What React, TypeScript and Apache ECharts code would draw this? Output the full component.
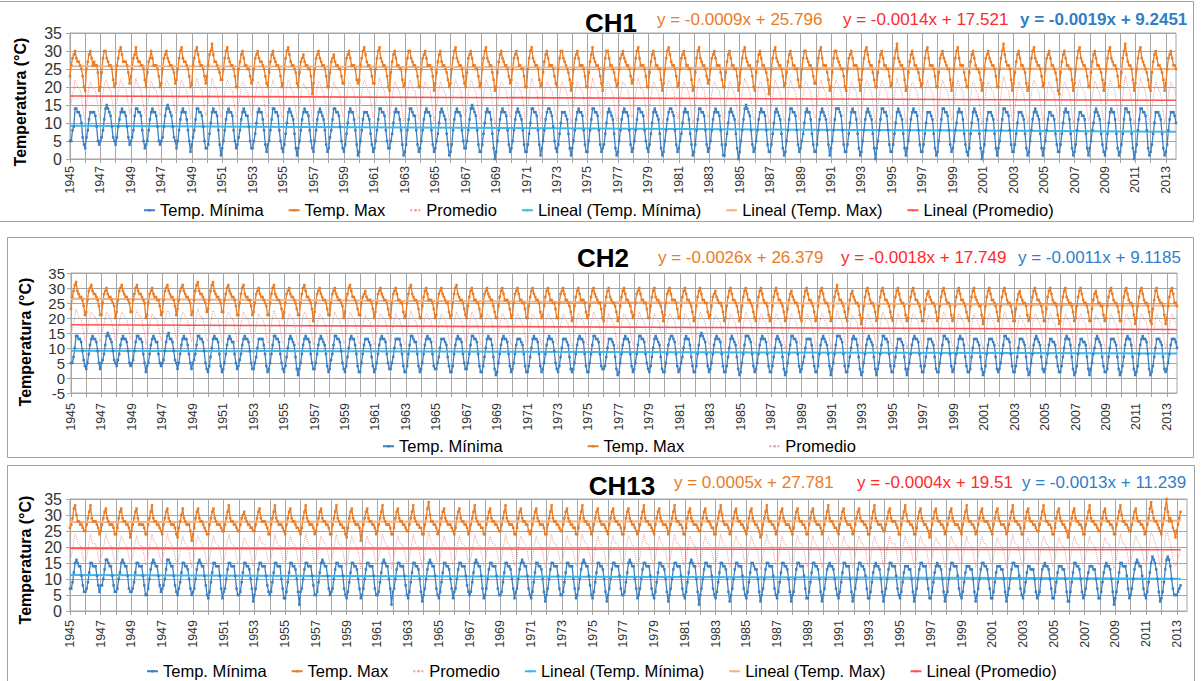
import React, { useEffect, useRef } from "react";
import * as echarts from "echarts";

const FONT = "'Liberation Sans', Arial, sans-serif";

// Year label of each 12-month block of the category axis (as printed on the original axis)
const YEAR_BLOCKS = [
  1945, 1946, 1947, 1948, 1949, 1950,
  1947, 1948, 1949, 1950, 1951, 1952, 1953, 1954, 1955, 1956, 1957, 1958, 1959, 1960,
  1961, 1962, 1963, 1964, 1965, 1966, 1967, 1968, 1969, 1970, 1971, 1972, 1973, 1974,
  1975, 1976, 1977, 1978, 1979, 1980, 1981, 1982, 1983, 1984, 1985, 1986, 1987, 1988,
  1989, 1990, 1991, 1992, 1993, 1994, 1995, 1996, 1997, 1998, 1999, 2000, 2001, 2002,
  2003, 2004, 2005, 2006, 2007, 2008, 2009, 2010, 2011, 2012, 2013,
];
const MONTHS = ["Ene", "Feb", "Mar", "Abr", "May", "Jun", "Jul", "Ago", "Sep", "Oct", "Nov", "Dic"];
const LAST_BLOCK_MONTHS = 9;

// ---------- CH1 ----------
const CH1_TMIN = [
  "5 5 8 9 14 14 13 13 12 10 6 4", "3 6 8 11 13 13 13 13 12 9 5 4", "5 6 8 11 14 15 14 13 12 9 6 5",
  "4 6 9 11 13 14 13 13 12 9 6 4", "5 6 8 12 14 14 13 13 12 8 5 3", "4 5 8 11 13 14 13 13 12 9 5 4",
  "5 6 9 12 14 15 14 13 12 9 6 5", "3 5 8 11 13 14 13 13 11 8 5 2", "4 6 8 11 14 14 13 13 12 9 5 3",
  "3 4 7 10 13 14 13 13 12 8 4 1", "3 5 8 11 13 14 13 13 12 8 5 3", "4 6 8 11 13 14 13 12 12 9 5 3",
  "3 5 7 10 13 14 13 13 11 8 4 2", "4 5 8 11 14 14 13 13 12 8 5 3", "2 4 7 10 13 14 13 12 11 7 3 1",
  "3 5 8 11 13 14 13 13 12 8 5 3", "2 5 8 11 13 14 13 12 11 8 4 2", "3 6 8 11 14 14 13 13 12 9 5 3",
  "2 4 7 10 13 14 13 13 11 8 4 1", "2 5 8 11 13 13 13 12 11 7 4 2", "3 5 8 11 14 14 13 13 12 8 5 3",
  "3 5 7 10 13 14 13 13 11 8 4 1", "2 4 8 11 14 14 13 12 12 8 4 2", "3 5 8 11 13 14 13 13 12 8 4 2",
  "3 5 7 10 13 14 13 12 11 7 4 1", "2 4 8 11 13 14 13 13 12 8 5 3", "3 5 8 11 14 15 14 13 12 8 4 2",
  "2 4 7 10 13 14 13 13 11 7 3 0", "2 5 8 11 13 14 13 13 12 8 4 2", "3 5 8 11 13 14 13 12 11 8 4 2",
  "2 4 7 10 14 14 13 13 12 8 4 1", "3 5 8 11 13 14 14 13 12 9 5 3", "2 4 7 10 13 13 13 12 11 7 3 1",
  "3 5 8 11 13 14 13 13 12 8 4 2", "2 5 8 11 14 14 13 13 12 8 4 2", "3 4 7 10 13 14 13 12 11 7 3 1",
  "2 5 8 11 13 14 13 13 12 8 4 2", "3 5 8 11 14 14 13 13 12 8 5 3", "2 4 7 10 13 14 13 12 11 7 3 1",
  "2 5 8 11 13 14 14 13 12 8 4 2", "3 5 7 10 13 14 13 13 11 7 4 1", "2 4 8 11 14 14 13 13 12 8 4 2",
  "3 5 8 11 13 14 13 13 12 8 4 1", "1 4 7 10 13 14 13 12 11 7 3 0", "2 5 8 11 14 15 14 13 12 8 4 2",
  "3 5 8 11 13 14 13 13 12 8 4 2", "2 4 7 10 13 14 13 12 11 7 3 1", "2 5 8 11 14 14 13 13 12 8 4 2",
  "3 5 7 10 13 14 13 13 11 7 4 2", "2 4 8 11 13 14 13 12 11 8 4 1", "3 5 8 11 14 14 14 13 12 8 4 2",
  "2 4 7 10 13 14 13 13 11 7 3 1", "2 5 8 11 13 14 13 12 11 7 3 0", "3 5 8 11 14 14 13 13 12 8 4 2",
  "2 4 7 10 13 14 13 12 11 7 3 1", "3 5 8 11 13 14 13 13 12 8 4 2", "2 4 7 10 13 13 13 12 11 7 3 1",
  "2 5 8 11 14 14 13 13 12 8 4 2", "3 5 8 10 13 14 13 13 11 7 4 2", "1 3 7 10 13 14 13 12 11 7 3 0",
  "2 4 8 11 13 13 13 12 11 7 3 1", "3 5 8 11 14 14 13 13 12 8 4 2", "2 4 7 10 13 13 13 12 11 7 3 1",
  "2 5 8 11 13 14 13 12 11 7 3 1", "3 5 8 11 13 13 12 12 11 7 4 2", "2 4 7 10 13 14 13 13 11 7 3 1",
  "2 4 8 11 13 13 12 12 11 7 3 1", "3 5 8 10 13 14 13 12 11 7 4 2", "1 3 7 10 13 14 13 13 11 7 3 1",
  "2 4 7 11 14 14 13 13 11 7 3 0", "2 4 8 11 14 14 13 13 12 8 3 1", "2 4 7 10 13 13 13 12 11 7 3 1",
  "2 4 8 11 13 13 13 12 10",
];
const CH1_TMAX = [
  "23 26 28 29 30 28 27 27 26 25 23 20", "19 25 27 29 30 28 26 27 26 26 24 19", "20 24 28 30 30 28 27 26 26 25 22 20",
  "21 26 28 30 31 29 27 27 27 26 24 21", "23 25 28 29 31 28 27 27 26 26 25 22", "20 24 27 28 30 28 26 26 26 25 23 20",
  "21 25 28 29 30 28 27 26 26 25 24 21", "22 25 28 30 31 28 27 27 26 25 23 20", "21 26 28 30 31 29 27 26 26 25 23 21",
  "23 26 29 30 32 29 27 27 26 25 24 22", "22 25 28 30 31 28 27 26 26 25 23 20", "20 25 27 29 30 28 26 26 25 25 23 21",
  "22 25 28 29 30 28 27 27 26 25 23 21", "20 24 27 29 30 28 27 26 26 25 23 20", "21 25 28 30 31 29 27 26 26 25 24 21",
  "20 24 27 28 29 27 26 26 25 25 23 18", "21 25 28 29 30 28 27 26 26 25 23 20", "20 24 27 28 29 27 26 26 25 25 23 21",
  "21 25 28 29 30 28 26 26 26 25 22 21", "22 26 28 30 31 29 27 26 26 25 23 21", "21 25 28 30 31 28 27 26 26 25 23 20",
  "19 24 27 29 30 28 26 26 25 25 22 20", "21 25 28 30 30 28 27 26 26 25 23 20", "20 25 28 29 30 28 26 26 26 25 23 19",
  "21 24 27 29 30 27 26 26 25 24 22 20", "21 25 28 30 31 28 27 26 26 25 23 21", "20 24 28 29 30 28 26 26 25 25 23 20",
  "21 25 28 30 31 28 27 26 26 24 22 19", "20 24 27 29 30 28 27 26 26 25 23 21", "22 25 28 29 30 28 26 26 25 25 23 20",
  "20 25 28 30 31 28 27 26 26 25 22 20", "21 24 27 29 30 28 26 26 26 25 23 21", "20 25 28 30 30 28 27 26 25 24 22 19",
  "21 25 28 29 30 28 26 26 26 25 23 20", "20 24 27 29 31 28 27 26 26 25 23 21", "19 25 28 30 30 28 26 26 25 24 22 20",
  "21 25 28 29 30 28 27 26 26 25 23 21", "22 25 28 30 31 28 26 26 26 25 23 20", "20 24 27 29 30 28 26 26 25 25 22 19",
  "21 25 28 30 31 29 27 26 26 25 23 20", "21 25 28 29 30 28 26 26 25 25 22 19", "20 24 28 30 31 28 27 26 26 25 23 21",
  "22 25 28 29 30 28 26 26 26 24 22 20", "20 24 27 29 30 28 26 26 25 25 23 19", "21 25 28 30 31 28 27 26 26 25 23 20",
  "19 24 27 29 30 28 26 26 25 24 22 18", "20 25 28 30 31 28 27 26 26 25 23 20", "21 24 27 29 30 28 26 26 25 25 22 20",
  "20 25 28 30 30 28 27 26 26 25 23 21", "21 25 28 30 31 28 26 26 26 24 22 19", "20 24 28 30 30 28 27 26 25 25 23 20",
  "19 25 28 29 30 28 26 26 26 25 22 19", "22 25 28 30 31 29 27 26 26 24 22 20", "20 24 27 29 30 28 26 26 25 25 23 20",
  "21 25 28 30 32 28 27 26 26 25 22 19", "20 24 27 29 30 28 26 26 25 24 22 20", "21 25 28 30 31 28 26 26 26 25 23 20",
  "20 24 28 29 30 28 27 26 25 25 22 19", "21 25 28 30 31 28 26 26 26 24 22 20", "20 24 27 29 30 28 26 25 25 24 22 19",
  "21 25 28 29 30 28 27 26 26 25 23 20", "20 25 28 30 32 29 27 26 26 25 22 19", "21 24 27 29 30 28 26 26 25 24 21 19",
  "20 25 28 30 31 28 27 26 26 25 23 20", "21 25 28 29 30 28 26 26 25 24 22 19", "18 24 27 29 30 28 26 26 25 25 22 19",
  "21 25 28 30 31 28 27 26 26 25 23 20", "20 24 27 29 30 28 26 26 25 24 22 19", "21 25 28 30 31 28 27 26 26 25 23 20",
  "20 24 28 30 32 29 27 26 26 25 22 19", "21 25 28 30 31 28 27 26 25 24 22 20", "19 24 27 29 30 28 26 26 25 24 22 19",
  "21 25 28 29 30 28 26 26 25",
];

// ---------- CH2 ----------
const CH2_TMIN = [
  "5 5 7 10 14 14 13 13 12 9 6 4", "3 5 8 11 13 14 13 13 12 9 5 3", "5 6 8 11 14 15 14 13 12 9 6 5",
  "4 6 8 11 13 14 13 13 12 9 5 4", "5 6 9 12 14 14 13 13 12 8 5 2", "4 5 8 11 13 14 13 12 12 8 5 4",
  "5 6 9 12 14 15 13 13 12 9 6 5", "3 5 8 11 13 14 13 13 11 8 5 3", "5 6 8 11 14 14 13 13 12 9 5 3",
  "2 4 7 10 13 14 13 13 12 8 4 2", "3 5 8 11 13 14 13 12 12 8 5 3", "4 6 8 11 13 14 13 13 12 9 5 3",
  "3 5 7 10 13 13 13 13 11 8 4 2", "3 5 8 11 14 14 13 13 12 8 5 3", "2 4 7 10 13 14 13 12 11 7 3 1",
  "3 5 8 11 13 14 13 13 12 8 5 3", "3 5 8 11 13 14 13 12 11 8 4 2", "3 6 8 11 14 14 13 13 12 9 5 3",
  "2 4 7 10 13 14 13 13 11 8 4 2", "2 5 8 11 13 13 13 12 11 7 4 2", "3 5 8 11 13 14 13 13 12 8 5 3",
  "3 5 7 10 13 13 13 13 11 8 4 2", "2 4 8 11 14 14 13 12 12 8 4 2", "3 5 8 11 13 14 13 13 12 8 4 3",
  "3 5 7 10 13 13 13 12 11 7 4 2", "2 4 8 11 13 14 13 13 12 8 5 3", "3 5 8 11 14 14 13 13 12 8 4 2",
  "2 4 7 10 13 14 13 13 11 7 3 1", "2 5 8 11 13 14 13 13 12 8 4 2", "3 5 8 11 13 13 13 12 11 8 4 2",
  "2 4 7 10 13 14 13 13 12 8 4 2", "3 5 8 11 13 14 13 13 12 9 5 3", "2 4 7 10 13 13 13 12 11 7 3 2",
  "3 5 8 11 13 14 13 13 12 8 4 2", "2 5 8 11 14 14 13 13 12 8 4 3", "3 4 7 10 13 13 13 12 11 7 3 1",
  "2 5 8 11 13 14 13 13 12 8 4 2", "3 5 8 11 14 14 13 13 12 8 5 3", "2 4 7 10 13 14 13 12 11 7 3 2",
  "2 5 8 11 13 14 14 13 12 8 4 2", "3 5 7 10 13 14 13 13 11 7 4 2", "2 4 8 11 14 15 14 13 12 8 4 2",
  "3 5 8 11 13 14 13 13 12 8 4 2", "2 4 7 10 13 14 13 12 11 7 3 1", "2 5 8 11 14 14 14 13 12 8 4 2",
  "3 5 8 11 13 14 13 13 12 8 4 2", "2 4 7 10 13 14 13 12 11 7 3 1", "2 5 8 11 14 14 13 13 12 8 4 2",
  "3 5 7 10 13 13 13 13 11 7 4 2", "2 4 8 11 13 14 13 12 11 8 4 1", "3 5 8 11 14 14 14 13 12 8 4 2",
  "2 4 7 10 13 14 13 13 11 7 3 1", "2 5 8 11 13 14 13 12 11 7 3 1", "3 5 8 11 14 14 13 13 12 8 4 2",
  "2 4 7 10 13 13 13 12 11 7 3 1", "3 5 8 11 13 14 13 13 12 8 4 2", "2 4 7 10 13 13 13 12 11 7 3 2",
  "2 5 8 11 14 14 13 13 12 8 4 2", "3 5 8 10 13 14 13 13 11 7 4 2", "2 3 7 10 13 13 13 12 11 7 3 1",
  "2 4 8 11 13 13 13 12 11 7 3 2", "3 5 8 11 14 14 13 13 12 8 4 2", "2 4 7 10 13 13 13 12 11 7 3 1",
  "2 5 8 11 13 14 13 12 11 7 3 2", "3 5 8 11 13 13 12 12 11 7 4 2", "2 4 7 10 13 14 13 13 11 7 3 1",
  "2 4 8 11 13 13 12 12 11 7 3 1", "3 5 8 10 13 14 13 12 11 7 4 2", "2 3 7 10 13 13 13 12 11 7 3 1",
  "2 4 7 11 13 14 13 13 11 7 3 1", "2 4 8 11 13 14 13 13 12 8 3 1", "2 4 7 10 13 13 13 12 11 7 3 2",
  "3 5 8 11 13 13 13 12 10",
];
const CH2_TMAX = [
  "23 27 29 31 32 29 28 27 27 26 24 21", "22 26 29 30 31 29 28 28 27 26 24 21", "21 25 28 29 30 28 27 27 26 25 24 20",
  "22 26 29 30 31 29 28 27 27 26 25 22", "22 26 28 30 31 29 28 28 27 26 25 20", "21 25 28 29 30 28 27 27 26 26 24 21",
  "22 26 29 30 31 29 28 27 27 26 24 21", "23 26 29 30 31 29 28 27 27 26 25 21", "22 26 29 31 32 29 28 28 27 26 25 22",
  "23 26 29 31 32 29 28 27 27 26 25 22", "22 26 28 30 31 29 28 27 27 26 24 21", "21 25 28 30 31 28 27 27 26 26 24 21",
  "22 25 28 29 30 28 27 27 26 25 24 21", "21 25 28 30 31 28 27 26 26 25 23 20", "22 25 28 29 30 28 27 27 26 25 23 21",
  "21 25 28 30 31 29 27 27 26 25 23 19", "22 25 28 29 30 28 27 26 26 25 23 21", "21 25 28 29 30 28 27 26 26 25 24 20",
  "22 26 28 30 31 29 27 27 26 25 23 21", "21 25 27 28 29 27 26 26 26 25 23 20", "22 25 28 29 30 28 27 26 26 25 23 21",
  "20 25 28 29 30 28 26 26 25 25 22 20", "21 25 28 30 31 28 27 26 26 25 23 20", "20 24 27 29 30 28 26 26 26 25 23 20",
  "21 25 28 29 30 28 27 26 25 25 22 20", "21 25 28 30 31 28 27 26 26 25 23 21", "20 24 27 29 30 28 26 26 25 25 23 20",
  "21 25 28 29 30 28 27 26 26 24 22 20", "20 24 27 29 30 28 26 26 26 25 23 20", "21 25 28 29 30 28 26 26 25 25 23 20",
  "20 24 27 29 30 28 27 26 26 25 22 20", "21 24 27 29 30 28 26 26 25 25 23 20", "20 25 28 29 30 28 26 26 25 24 22 19",
  "20 24 27 29 30 28 26 26 26 25 22 20", "21 24 27 29 30 28 27 26 25 25 23 20", "19 24 27 29 30 27 26 25 25 24 22 19",
  "20 24 27 29 30 28 26 26 25 24 22 20", "21 25 28 29 30 28 26 26 25 25 23 20", "20 24 27 29 30 27 26 26 25 24 22 19",
  "21 25 28 29 30 28 26 26 26 25 23 20", "20 24 27 29 30 28 26 26 25 24 22 19", "20 24 27 29 30 28 26 26 25 25 22 20",
  "21 24 27 28 29 27 26 25 25 24 22 19", "20 24 27 29 30 28 26 26 25 24 22 19", "20 24 27 29 30 28 26 26 25 24 22 20",
  "19 24 27 29 30 28 26 25 25 24 21 19", "20 24 27 29 30 28 26 26 25 24 22 19", "20 23 26 28 29 27 26 25 25 24 22 20",
  "19 24 27 29 30 28 26 26 25 24 22 19", "20 24 27 29 30 28 26 25 25 24 22 19", "20 24 27 29 31 28 26 26 25 24 22 20",
  "19 23 26 28 29 27 26 25 25 24 21 18", "20 24 27 29 30 28 26 25 25 24 22 19", "20 24 27 29 30 28 26 26 25 24 22 20",
  "19 24 27 29 30 28 26 25 25 24 21 19", "20 24 27 29 30 28 26 26 25 24 22 19", "19 23 26 28 29 27 26 25 25 24 22 19",
  "20 24 27 29 30 28 26 25 25 24 21 19", "20 24 27 29 30 28 26 26 25 24 22 20", "19 24 27 29 30 27 26 25 24 24 21 18",
  "20 24 27 29 30 28 26 26 25 24 22 19", "20 24 27 29 30 28 26 25 25 24 22 19", "19 23 26 28 29 27 26 25 25 24 21 19",
  "20 24 27 29 30 28 26 26 25 24 22 19", "19 23 27 29 30 28 26 25 25 24 21 18", "19 24 27 29 30 27 26 25 25 24 22 19",
  "20 24 27 29 30 28 26 25 25 24 22 19", "19 23 26 28 29 27 25 25 24 24 21 19", "20 24 27 29 30 28 26 25 25 24 22 19",
  "19 24 27 29 30 28 26 25 25 24 21 18", "20 24 27 29 30 28 26 25 25 24 22 19", "18 23 26 29 30 27 26 25 25 24 21 18",
  "20 24 27 29 30 28 25 25 24",
];

// ---------- CH13 ----------
const CH13_TMIN = [
  "7 7 9 12 15 16 15 14 14 11 8 6", "6 7 9 12 15 15 14 14 14 11 8 6", "8 8 10 13 16 16 15 14 14 11 8 6",
  "6 7 10 12 15 16 15 14 14 11 7 6", "6 7 9 12 15 15 14 14 14 11 8 5", "5 7 10 13 15 16 15 14 14 11 8 6",
  "7 8 10 13 16 16 15 14 14 11 8 6", "5 7 9 12 15 15 14 14 13 10 7 5", "6 7 10 13 15 16 15 14 14 11 8 5",
  "4 6 9 12 15 15 14 14 14 11 7 4", "6 7 10 13 15 15 14 14 14 11 7 5", "5 6 9 12 15 15 14 14 13 10 7 3",
  "5 7 10 13 15 15 14 14 14 11 8 6", "5 6 9 12 15 15 14 14 14 10 7 4", "4 6 9 12 15 15 14 14 13 10 6 2",
  "6 7 10 13 15 15 14 14 14 11 8 5", "5 6 9 12 15 16 15 14 14 11 7 5", "6 7 10 13 15 15 14 14 14 11 7 5",
  "4 6 9 12 15 15 14 14 13 10 7 4", "5 7 10 13 15 15 14 14 14 11 7 5", "5 6 9 12 15 16 15 14 14 10 7 2",
  "6 7 10 13 15 15 14 14 14 11 8 5", "4 6 9 12 15 15 14 14 13 10 6 3", "5 7 10 13 15 16 15 14 14 11 7 5",
  "4 6 9 12 15 15 14 14 13 10 7 4", "6 7 10 13 15 15 14 14 14 11 8 6", "5 6 9 12 15 16 15 14 14 11 7 4",
  "5 7 10 13 15 15 14 14 14 11 7 5", "5 6 9 12 15 15 14 14 13 10 7 4", "6 7 10 13 15 16 15 14 14 11 7 5",
  "4 6 9 12 15 15 14 14 13 10 6 3", "5 7 10 13 15 15 14 14 14 11 7 5", "5 6 9 12 15 15 14 14 14 10 7 4",
  "5 7 10 13 15 16 15 14 14 11 8 5", "4 6 9 12 15 15 14 14 13 10 6 3", "5 7 10 13 15 15 14 14 14 11 7 5",
  "5 6 9 12 15 16 15 14 14 10 7 4", "5 7 10 13 15 15 14 14 14 11 7 5", "4 6 9 12 15 15 14 14 13 10 6 3",
  "5 7 10 13 15 15 14 14 14 11 7 5", "4 6 9 12 15 16 15 14 14 10 6 2", "5 7 10 13 15 15 14 14 14 11 7 5",
  "4 6 9 12 15 15 14 14 13 10 6 3", "5 7 10 13 15 15 14 14 14 11 7 5", "4 6 9 12 15 15 14 13 13 10 6 3",
  "5 7 10 13 15 15 14 14 14 11 7 5", "4 6 9 12 15 15 14 14 13 10 6 3", "5 6 10 13 15 15 14 14 14 11 7 4",
  "4 6 9 12 15 15 14 14 13 10 6 3", "5 7 10 13 14 15 14 14 13 10 7 5", "4 6 9 12 15 15 14 14 14 10 6 3",
  "5 7 10 13 15 15 14 14 13 11 7 4", "4 6 9 12 14 15 14 14 13 10 6 3", "5 7 10 13 15 15 14 14 14 11 7 5",
  "4 6 9 12 14 14 14 13 13 10 6 3", "5 7 10 13 15 15 14 14 14 10 7 4", "4 6 9 12 14 15 14 14 13 10 6 3",
  "5 6 10 13 15 15 14 14 14 11 7 5", "4 6 9 12 14 14 14 13 13 10 6 3", "5 7 10 13 15 15 14 14 13 10 7 4",
  "4 6 9 12 14 14 14 13 13 10 6 3", "5 7 10 13 15 15 14 14 14 11 7 5", "4 6 9 12 14 14 13 13 13 10 6 4",
  "5 6 10 13 14 15 14 14 13 10 7 4", "4 6 9 12 14 14 14 13 13 10 6 3", "3 6 9 12 15 15 14 14 13 10 6 4",
  "5 7 10 12 14 14 14 13 13 10 7 4", "4 6 9 12 14 15 14 14 13 10 6 2", "4 6 9 12 15 15 14 14 14 11 7 4",
  "5 7 10 13 15 16 15 14 14 11 7 5", "4 6 9 12 15 17 16 15 13 10 6 3", "4 6 9 13 16 17 16 14 10 7 5 5",
  "5 6 7 8",
];
const CH13_TMAX = [
  "26 27 29 32 33 30 28 28 27 27 26 25", "25 27 29 31 33 29 28 28 28 27 26 24", "25 27 29 31 32 29 28 27 27 27 26 24",
  "24 26 29 31 32 29 28 28 27 27 26 23", "25 27 29 31 32 29 27 27 27 27 26 24", "24 27 29 31 33 29 28 28 27 27 26 25",
  "24 27 29 31 32 29 28 27 27 27 26 24", "23 26 28 30 32 29 28 27 27 27 25 22", "24 26 29 31 32 29 28 28 27 26 25 24",
  "24 27 29 31 32 29 28 27 27 27 26 25", "25 27 29 31 33 29 28 28 27 27 26 25", "25 27 29 30 31 29 28 27 27 26 26 25",
  "25 27 29 31 32 29 28 28 28 27 26 24", "24 27 29 31 33 29 28 27 27 27 26 25", "24 27 29 31 32 29 28 28 27 26 26 25",
  "24 26 29 31 33 29 28 27 27 27 26 24", "25 27 29 31 32 29 28 28 27 27 26 24", "24 27 29 31 33 29 28 27 27 26 26 24",
  "23 26 29 31 32 29 28 27 27 27 26 22", "25 27 29 31 32 29 28 28 27 27 26 24", "25 27 29 31 33 29 28 27 27 27 26 24",
  "24 26 29 31 32 29 28 28 27 27 26 25", "25 27 29 31 33 29 28 27 27 26 26 24", "24 27 29 32 34 30 28 28 27 27 26 24",
  "25 27 29 31 32 29 28 27 27 27 26 25", "24 26 29 31 32 29 28 28 27 27 26 24", "25 27 29 31 33 29 28 27 27 26 26 24",
  "24 27 29 31 32 29 28 28 27 27 26 25", "25 27 29 31 33 29 28 27 27 27 26 24", "24 26 29 31 32 29 28 28 27 27 25 24",
  "25 27 29 31 32 29 28 27 27 27 26 24", "24 27 29 31 33 29 28 28 27 27 26 25", "25 27 29 31 32 29 28 27 27 26 26 24",
  "24 26 29 31 33 29 28 28 27 27 26 24", "25 27 29 31 32 29 28 27 27 27 26 25", "24 27 29 31 32 29 28 28 27 27 26 24",
  "24 26 29 31 32 29 28 27 27 26 25 24", "25 27 29 31 33 29 28 28 27 27 26 25", "24 27 29 31 32 29 28 27 27 27 26 24",
  "25 27 29 31 33 29 28 28 27 27 26 24", "24 26 29 31 32 29 28 27 27 27 26 25", "25 27 29 31 32 29 28 28 27 26 26 24",
  "24 27 29 31 33 30 28 27 27 27 26 24", "25 27 29 31 32 29 28 28 27 27 26 25", "24 26 29 31 32 29 28 27 27 26 25 23",
  "24 27 29 31 33 29 28 28 27 27 26 24", "25 27 29 31 32 29 28 27 27 27 26 25", "24 26 29 31 32 29 28 28 27 27 26 24",
  "24 27 29 31 32 29 28 27 27 27 26 24", "25 27 29 31 33 29 28 28 27 26 26 25", "24 27 29 31 32 29 28 27 27 27 26 24",
  "25 27 29 31 32 29 28 28 27 27 26 24", "24 26 29 31 33 29 28 27 27 27 26 25", "25 27 29 31 32 29 28 28 28 27 26 24",
  "24 27 29 31 33 30 28 28 27 27 26 24", "24 26 29 31 32 29 28 27 27 26 25 23", "25 27 29 31 32 29 28 28 27 27 26 24",
  "25 27 29 31 32 29 28 27 27 27 26 25", "24 27 29 31 33 29 28 28 27 27 26 24", "25 27 29 31 32 29 28 28 28 27 26 25",
  "24 27 29 31 32 29 28 27 27 27 26 24", "25 27 29 31 33 29 28 28 27 27 26 24", "24 26 29 31 32 29 28 28 27 27 26 25",
  "25 27 29 31 33 30 28 28 27 27 26 24", "24 26 29 31 32 29 28 27 27 26 25 23", "25 27 29 31 32 29 28 28 27 27 26 24",
  "24 27 29 31 33 29 28 28 27 27 26 25", "25 27 29 31 32 29 28 28 27 27 26 24", "24 27 29 31 33 30 28 28 27 27 26 25",
  "25 27 29 31 32 29 28 28 27 27 26 24", "25 27 29 32 34 31 29 28 28 27 26 25", "24 27 29 32 35 31 28 29 28 26 25 23",
  "25 27 29 31",
];

// Linear trend lines as printed on the chart: [slope, intercept]
const CH1_TRENDS = { tmax: [-0.0009, 25.796], prom: [-0.0014, 17.521], tmin: [-0.0019, 9.2451] };
const CH2_TRENDS = { tmax: [-0.0026, 26.379], prom: [-0.0018, 17.749], tmin: [-0.0011, 9.1185] };
const CH13_TRENDS = { tmax: [0.0005, 27.781], prom: [-0.0004, 19.51], tmin: [-0.0013, 11.239] };

const CH1_EQ = ["y = -0.0009x + 25.796", "y = -0.0014x + 17.521", "y = -0.0019x + 9.2451"];
const CH2_EQ = ["y = -0.0026x + 26.379", "y = -0.0018x + 17.749", "y = -0.0011x + 9.1185"];
const CH13_EQ = ["y = 0.0005x + 27.781", "y = -0.0004x + 19.51", "y = -0.0013x + 11.239"];

const NAMES = [
  "Temp. Mínima", "Temp. Max", "Promedio",
  "Lineal (Temp. Mínima)", "Lineal (Temp. Max)", "Lineal (Promedio)",
];

const C_TMIN = "#3b80c4";
const C_TMAX = "#e97c26";
const C_PROM = "#ee9c9c";
const C_LTMIN = "#3ab7ef";
const C_LTMAX = "#f5b384";
const C_LPROM = "#ff5252";
const C_GRID = "#a6a6a6";

const LEGEND_FS = 16.5;

const parse = (rows: string[]) => rows.join(" ").trim().split(/\s+/).map(Number);

const CATS: string[] = YEAR_BLOCKS.flatMap((y, b) =>
  MONTHS.slice(0, b === YEAR_BLOCKS.length - 1 ? LAST_BLOCK_MONTHS : 12).map((m) => `${m} ${y} #${b}`)
);

const PANELS = [
  {
    title: "CH1", tmin: CH1_TMIN, tmax: CH1_TMAX, trends: CH1_TRENDS, eq: CH1_EQ, eqBold: [false, false, true],
    ymin: 0, grid: { left: 70, top: 33, width: 1106, height: 126 },
    border: { x: -1.5, y: 1.5, w: 1195, h: 220 },
    titlePos: [611, 23], eqY: 19, eqX: [657, 843, 1020], yName: [20, 102],
    xMargin: 7, yMargin: 8, yFs: 16,
    legend: { left: 143, center: 210, gap: 24, items: NAMES },
  },
  {
    title: "CH2", tmin: CH2_TMIN, tmax: CH2_TMAX, trends: CH2_TRENDS, eq: CH2_EQ, eqBold: [false, false, false],
    ymin: -5, grid: { left: 71, top: 273, width: 1106, height: 120 },
    border: { x: 7.5, y: 237.5, w: 1186, h: 220 },
    titlePos: [603, 258], eqY: 257, eqX: [658, 841, 1018], yName: [25, 342],
    xMargin: 10, yMargin: 6, yFs: 15,
    legend: { left: 382, center: 446, gap: 84, items: NAMES.slice(0, 3) },
  },
  {
    title: "CH13", tmin: CH13_TMIN, tmax: CH13_TMAX, trends: CH13_TRENDS, eq: CH13_EQ, eqBold: [false, false, false],
    ymin: 0, grid: { left: 70, top: 499, width: 1117, height: 112 },
    border: { x: 7.5, y: 465.5, w: 1187, h: 240 },
    titlePos: [622, 486], eqY: 482, eqX: [674, 857, 1022], yName: [25, 560],
    xMargin: 9, yMargin: 8, yFs: 16,
    legend: { left: 146, center: 671, gap: 24, items: NAMES },
  },
];

function buildOption() {
  const grids: any[] = [];
  const xAxes: any[] = [];
  const yAxes: any[] = [];
  const series: any[] = [];
  const legends: any[] = [];
  const graphics: any[] = [];

  PANELS.forEach((p, k) => {
    const tmin = parse(p.tmin);
    const tmax = parse(p.tmax);
    const prom = tmin.map((v, i) => (v + tmax[i]) / 2);
    const n = tmin.length;
    const trend = (t: number[]) => [
      [0, t[0] * 1 + t[1]],
      [n - 1, t[0] * n + t[1]],
    ];

    grids.push({
      ...p.grid,
      show: true,
      borderColor: C_GRID,
      borderWidth: 1,
      backgroundColor: "transparent",
    });
    xAxes.push({
      type: "category",
      gridIndex: k,
      data: CATS,
      boundaryGap: false,
      axisLine: { show: true, onZero: false, lineStyle: { color: C_GRID } },
      axisTick: { show: true, interval: 11, length: 4, lineStyle: { color: C_GRID } },
      axisLabel: {
        interval: 23,
        rotate: 90,
        fontSize: 12.5,
        color: "#333",
        fontFamily: FONT,
        margin: p.xMargin,
        hideOverlap: false,
        formatter: (v: string) => v.split(" ")[1],
      },
      splitLine: { show: true, interval: 11, lineStyle: { color: C_GRID, width: 1 } },
    });
    yAxes.push({
      type: "value",
      gridIndex: k,
      min: p.ymin,
      max: 35,
      interval: 5,
      axisLine: { show: true, lineStyle: { color: C_GRID } },
      axisTick: { show: true, length: 4, lineStyle: { color: C_GRID } },
      axisLabel: {
        fontSize: p.yFs, color: "#333", fontFamily: FONT, margin: p.yMargin,
        showMinLabel: true, showMaxLabel: true, hideOverlap: false,
      },
      splitLine: { show: true, lineStyle: { color: C_GRID, width: 1 } },
    });

    const base = { xAxisIndex: k, yAxisIndex: k, type: "line", silent: true, animation: false };
    series.push(
      {
        ...base, name: NAMES[0], data: tmin, color: C_TMIN,
        symbol: "rect", symbolSize: 2.5, showAllSymbol: true,
        lineStyle: { width: 1.3, color: C_TMIN }, itemStyle: { color: C_TMIN },
      },
      {
        ...base, name: NAMES[1], data: tmax, color: C_TMAX,
        symbol: "rect", symbolSize: 2.5, showAllSymbol: true,
        lineStyle: { width: 1.3, color: C_TMAX }, itemStyle: { color: C_TMAX },
      },
      {
        ...base, name: NAMES[2], data: prom, color: C_PROM, symbol: "none",
        lineStyle: { width: 1, type: "dotted", color: C_PROM },
      },
      {
        ...base, name: NAMES[3], data: trend(p.trends.tmin), color: C_LTMIN, symbol: "none",
        lineStyle: { width: 2, color: C_LTMIN },
      },
      {
        ...base, name: NAMES[4], data: trend(p.trends.tmax), color: C_LTMAX, symbol: "none",
        lineStyle: { width: 2, color: C_LTMAX },
      },
      {
        ...base, name: NAMES[5], data: trend(p.trends.prom), color: C_LPROM, symbol: "none",
        lineStyle: { width: 1.6, color: C_LPROM },
      }
    );

    legends.push({
      left: p.legend.left,
      top: p.legend.center - LEGEND_FS / 2,
      padding: 0,
      itemGap: p.legend.gap,
      itemWidth: 11,
      itemHeight: 3,
      selectedMode: false,
      textStyle: { fontSize: LEGEND_FS, color: "#000", fontFamily: FONT },
      data: p.legend.items,
    });

    graphics.push({
      type: "rect",
      silent: true,
      z: -1,
      shape: { x: p.border.x, y: p.border.y, width: p.border.w, height: p.border.h },
      style: { fill: "none", stroke: "#a3a3a3", lineWidth: 1 },
    });
    graphics.push({
      type: "text",
      silent: true,
      x: p.titlePos[0],
      y: p.titlePos[1],
      style: {
        text: p.title, fill: "#000", font: `bold 26px ${FONT}`,
        textAlign: "center", textVerticalAlign: "middle", align: "center", verticalAlign: "middle",
      },
    });
    const eqColors = [C_TMAX, "#ff2a2a", "#2f7fc8"];
    p.eq.forEach((t, j) => {
      graphics.push({
        type: "text",
        silent: true,
        x: p.eqX[j],
        y: p.eqY,
        style: {
          text: t, fill: eqColors[j], font: `${p.eqBold[j] ? "bold " : ""}17px ${FONT}`,
          textAlign: "left", textVerticalAlign: "middle", align: "left", verticalAlign: "middle",
        },
      });
    });
    graphics.push({
      type: "text",
      silent: true,
      x: p.yName[0],
      y: p.yName[1],
      rotation: Math.PI / 2,
      style: {
        text: "Temperatura (°C)", fill: "#000", font: `bold 16px ${FONT}`,
        textAlign: "center", textVerticalAlign: "middle", align: "center", verticalAlign: "middle",
      },
    });
  });

  return {
    animation: false,
    backgroundColor: "#ffffff",
    textStyle: { fontFamily: FONT },
    grid: grids,
    xAxis: xAxes,
    yAxis: yAxes,
    legend: legends,
    series,
    graphic: { elements: graphics },
  };
}

export default function App() {
  const ref = useRef<HTMLDivElement>(null);
  useEffect(() => {
    if (!ref.current) return;
    const chart = echarts.init(ref.current, undefined, { renderer: "svg" });
    chart.setOption(buildOption() as any);
    return () => chart.dispose();
  }, []);
  return (
    <div
      ref={ref}
      style={{ position: "absolute", left: 0, top: 0, width: 1202, height: 681, background: "#fff" }}
    />
  );
}
